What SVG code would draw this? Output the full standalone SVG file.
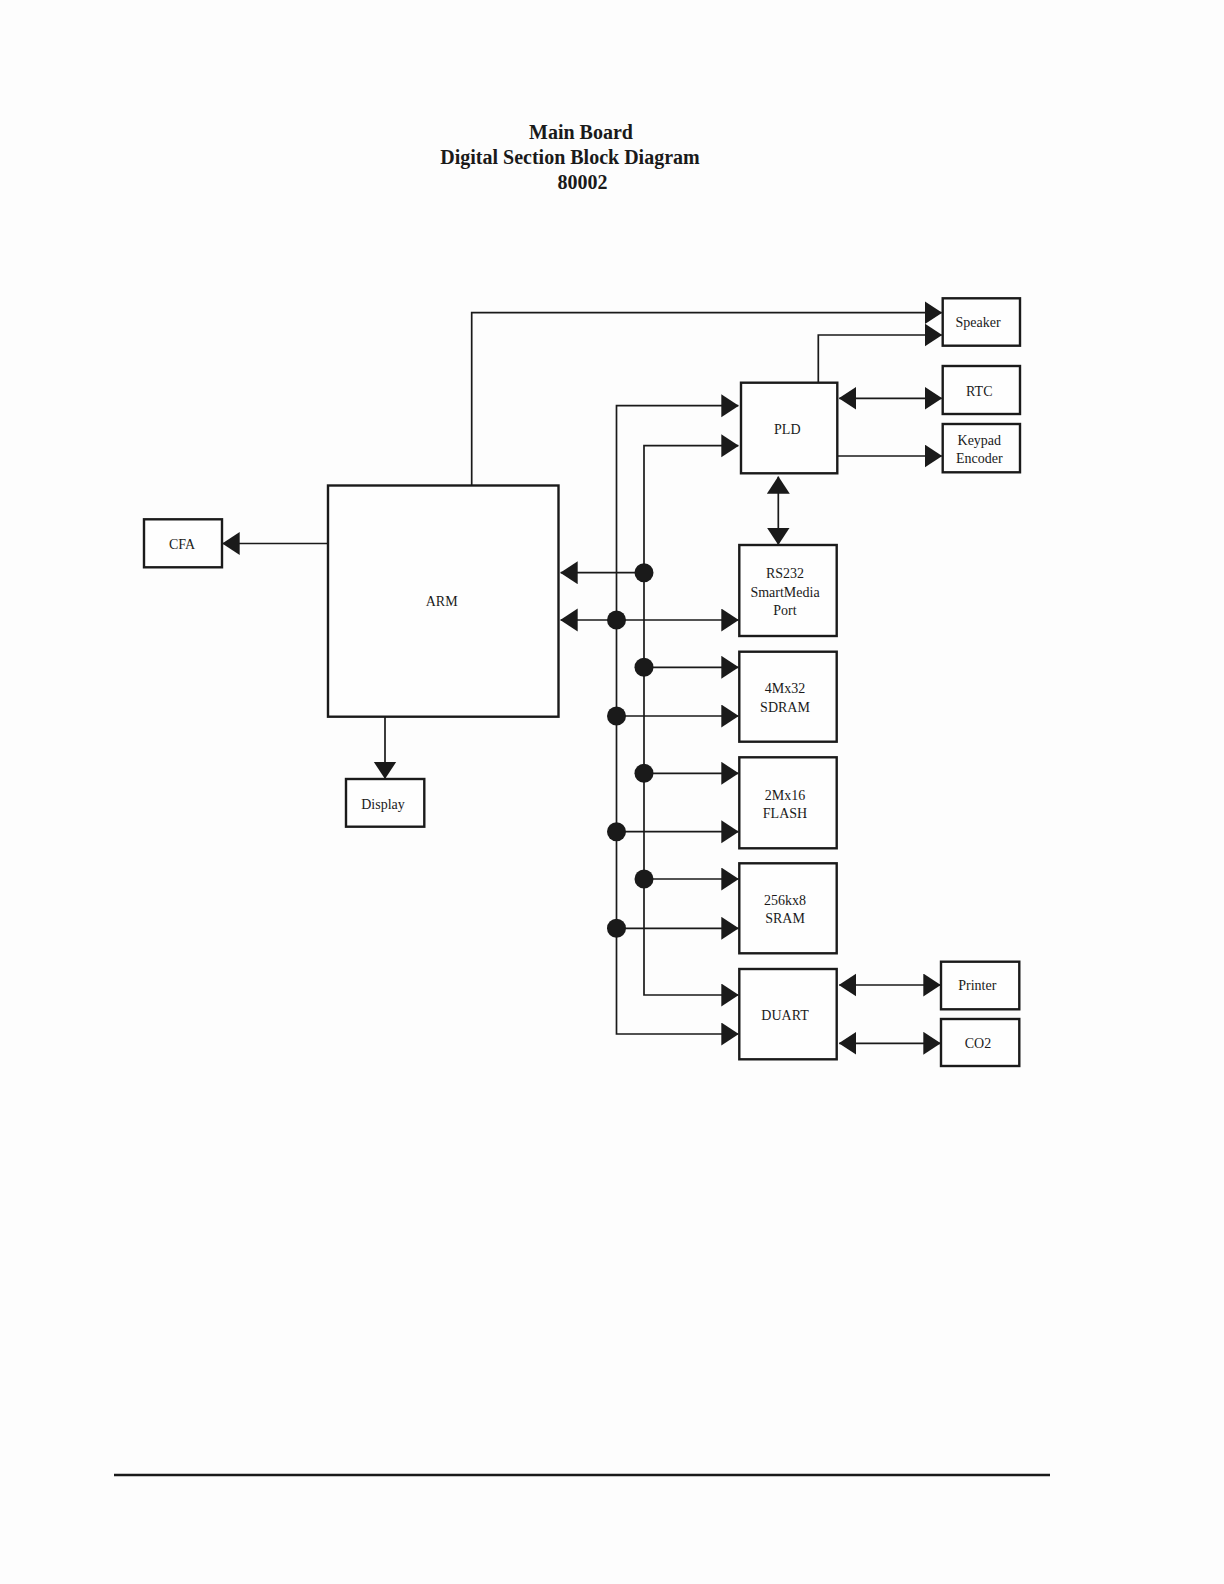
<svg xmlns="http://www.w3.org/2000/svg" width="1224" height="1584" viewBox="0 0 1224 1584">
<style>
.box{fill:#fefefe;stroke:#1a1a1a;stroke-width:2.4}
.lbl{font-family:"Liberation Serif","Times New Roman",serif;font-size:14px;fill:#1a1a1a;text-anchor:middle}
.ttl{font-family:"Liberation Serif","Times New Roman",serif;font-size:20px;font-weight:bold;fill:#1a1a1a;text-anchor:middle}
.ln{fill:none;stroke:#1a1a1a;stroke-width:1.7}
.dot{fill:#1a1a1a}
</style>
<defs>
<marker id="ah" markerUnits="userSpaceOnUse" markerWidth="18" markerHeight="24" refX="17" refY="11.5" orient="auto-start-reverse" viewBox="0 0 18 24">
<path d="M0,0 L17.5,11.5 L0,23 z" fill="#1a1a1a"/>
</marker>
</defs>
<rect x="0" y="0" width="1224" height="1584" fill="#fdfdfd"/>
<g id="title">
<text class="ttl" x="581" y="139">Main Board</text>
<text class="ttl" x="570" y="164">Digital Section Block Diagram</text>
<text class="ttl" x="582.5" y="189">80002</text>
</g>
<g id="connectors">
<path class="ln" d="M471.7,485.5 V312.7 H941.7" marker-end="url(#ah)"/>
<path class="ln" d="M818.3,382.7 V335 H941.7" marker-end="url(#ah)"/>
<path class="ln" d="M839.3,398.3 H941.7" marker-start="url(#ah)" marker-end="url(#ah)"/>
<path class="ln" d="M837.3,456 H941.7" marker-end="url(#ah)"/>
<path class="ln" d="M738.3,1034 H616.5 V405.7 H738.3" marker-start="url(#ah)" marker-end="url(#ah)"/>
<path class="ln" d="M738.3,995 H644 V445.7 H738.3" marker-start="url(#ah)" marker-end="url(#ah)"/>
<path class="ln" d="M328,543.5 H222.7" marker-end="url(#ah)"/>
<path class="ln" d="M385,716.7 V778.5" marker-end="url(#ah)"/>
<path class="ln" d="M778.3,476.7 V544.5" marker-start="url(#ah)" marker-end="url(#ah)"/>
<path class="ln" d="M644,572.7 H560.7" marker-end="url(#ah)"/>
<path class="ln" d="M738.3,620 H560.7" marker-start="url(#ah)" marker-end="url(#ah)"/>
<path class="ln" d="M644,667.3 H738.3" marker-end="url(#ah)"/>
<path class="ln" d="M616.5,716 H738.3" marker-end="url(#ah)"/>
<path class="ln" d="M644,773.3 H738.3" marker-end="url(#ah)"/>
<path class="ln" d="M616.5,831.7 H738.3" marker-end="url(#ah)"/>
<path class="ln" d="M644,879 H738.3" marker-end="url(#ah)"/>
<path class="ln" d="M616.5,928.3 H738.3" marker-end="url(#ah)"/>
<path class="ln" d="M839.3,985 H940.3" marker-start="url(#ah)" marker-end="url(#ah)"/>
<path class="ln" d="M839.3,1043.3 H940.3" marker-start="url(#ah)" marker-end="url(#ah)"/>
<circle class="dot" cx="644" cy="572.7" r="9.5"/>
<circle class="dot" cx="616.5" cy="620" r="9.5"/>
<circle class="dot" cx="644" cy="667.3" r="9.5"/>
<circle class="dot" cx="616.5" cy="716" r="9.5"/>
<circle class="dot" cx="644" cy="773.3" r="9.5"/>
<circle class="dot" cx="616.5" cy="831.7" r="9.5"/>
<circle class="dot" cx="644" cy="879" r="9.5"/>
<circle class="dot" cx="616.5" cy="928.3" r="9.5"/>
</g>
<g id="cfa"><rect class="box" x="144" y="519.3" width="78" height="48"/><text class="lbl" x="182" y="549">CFA</text></g>
<g id="arm"><rect class="box" x="328" y="485.5" width="230.5" height="231.2"/><text class="lbl" x="441.7" y="606">ARM</text></g>
<g id="display"><rect class="box" x="346" y="779" width="78.3" height="47.7"/><text class="lbl" x="383" y="809">Display</text></g>
<g id="pld"><rect class="box" x="741" y="382.7" width="96.3" height="90.6"/><text class="lbl" x="787.3" y="434">PLD</text></g>
<g id="speaker"><rect class="box" x="942.7" y="298.3" width="77.3" height="47.4"/><text class="lbl" x="978" y="327">Speaker</text></g>
<g id="rtc"><rect class="box" x="942.7" y="366" width="77.3" height="48"/><text class="lbl" x="979.3" y="396">RTC</text></g>
<g id="keypad"><rect class="box" x="942.7" y="424" width="77.3" height="48.3"/><text class="lbl" x="979.3" y="444.5">Keypad</text><text class="lbl" x="979.3" y="462.5">Encoder</text></g>
<g id="rs232"><rect class="box" x="739.3" y="545" width="97.4" height="91"/><text class="lbl" x="785" y="578">RS232</text><text class="lbl" x="785" y="596.5">SmartMedia</text><text class="lbl" x="785" y="615">Port</text></g>
<g id="sdram"><rect class="box" x="739.3" y="651.7" width="97.4" height="90"/><text class="lbl" x="785" y="693">4Mx32</text><text class="lbl" x="785" y="711.5">SDRAM</text></g>
<g id="flash"><rect class="box" x="739.3" y="757.3" width="97.4" height="91"/><text class="lbl" x="785" y="799.5">2Mx16</text><text class="lbl" x="785" y="817.5">FLASH</text></g>
<g id="sram"><rect class="box" x="739.3" y="863.3" width="97.4" height="90"/><text class="lbl" x="785" y="905">256kx8</text><text class="lbl" x="785" y="923.3">SRAM</text></g>
<g id="duart"><rect class="box" x="739.3" y="969" width="97.4" height="90.3"/><text class="lbl" x="785" y="1019.5">DUART</text></g>
<g id="printer"><rect class="box" x="941" y="961.7" width="78.3" height="47.6"/><text class="lbl" x="977.3" y="990">Printer</text></g>
<g id="co2"><rect class="box" x="941" y="1019" width="78.3" height="47"/><text class="lbl" x="978" y="1048">CO2</text></g>
<line x1="114" y1="1475" x2="1050" y2="1475" stroke="#1a1a1a" stroke-width="2.5"/>
</svg>
